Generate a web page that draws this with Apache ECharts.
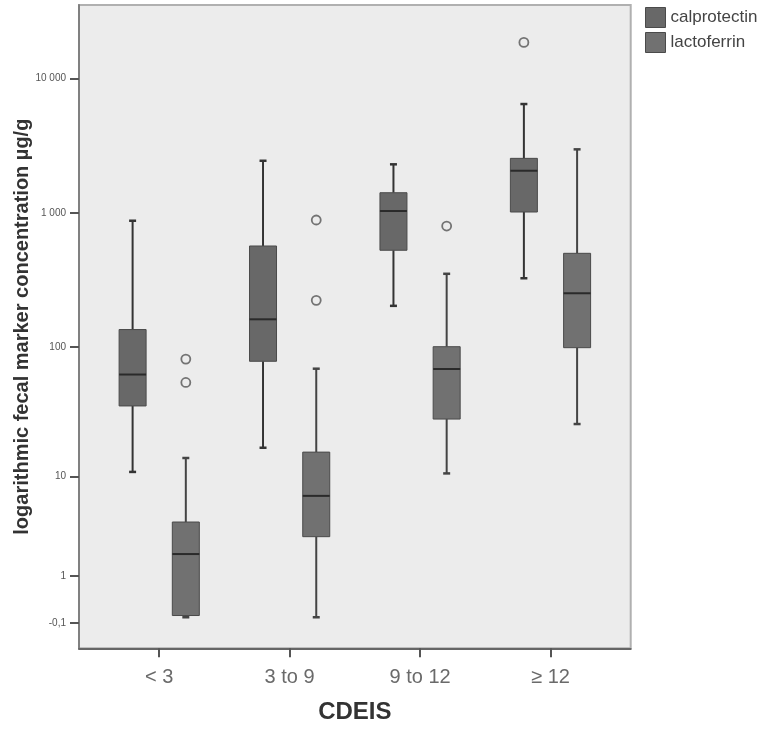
<!DOCTYPE html>
<html>
<head>
<meta charset="utf-8">
<script src="https://cdn.jsdelivr.net/npm/echarts@6/dist/echarts.min.js"></script>
<style>
html,body{margin:0;padding:0;background:#ffffff;}
#chart{width:770px;height:732px;}
</style>
</head>
<body>
<div id="chart"></div>
<script>
// ---------- data (µg/g) ----------
const categories = ['< 3', '3 to 9', '9 to 12', '\u2265 12'];
// [min, Q1, median, Q3, max]
const calprotectin = [
  [10.9, 35.8, 62, 135, 874],
  [17, 78, 161, 567, 2440],
  [203, 527, 1032, 1412, 2296],
  [326, 1015, 2057, 2543, 6443]
];
const lactoferrin = [
  [-0.01, 0.02, 1.92, 4.05, 14.1],
  [-0.01, 2.93, 6.9, 15.7, 68.6],
  [10.6, 28.4, 68.2, 100.4, 352],
  [26, 98.7, 252, 500, 2967]
];
// [category index, value]
const calprotectinOutliers = [[3, 18500]];
const lactoferrinOutliers = [[0, 81], [0, 54], [1, 885], [1, 223], [2, 798]];
const yTickValues = [-0.1, 1, 10, 100, 1000, 10000];
const yTickLabels = ['-0,1', '1', '10', '100', '1 000', '10 000'];

// ---------- helpers ----------
const tf = v => Math.log10(v + 1);           // SPSS-like log(x+1) scale
const OFF = 0.204;                            // side-by-side offset within a category
const FONT = '"Liberation Sans", Arial, Helvetica, sans-serif';
const yTickT = yTickValues.map(tf);
const xTicks = categories.map((_, i) => i);

function boxRenderer(fill, stroke, whisk) {
  return function (params, api) {
    const x = api.value(0);
    const p = [1, 2, 3, 4, 5].map(i => api.coord([x, api.value(i)]));
    const cx = p[0][0];
    const hw = 13.5, cw = 3.5;
    return {
      type: 'group',
      children: [
        {type: 'line', shape: {x1: cx, y1: p[4][1], x2: cx, y2: p[3][1]}, style: {stroke: whisk, lineWidth: 2}},
        {type: 'line', shape: {x1: cx, y1: p[1][1], x2: cx, y2: p[0][1]}, style: {stroke: whisk, lineWidth: 2}},
        {type: 'line', shape: {x1: cx - cw, y1: p[4][1], x2: cx + cw, y2: p[4][1]}, style: {stroke: whisk, lineWidth: 2.5}},
        {type: 'line', shape: {x1: cx - cw, y1: p[0][1], x2: cx + cw, y2: p[0][1]}, style: {stroke: whisk, lineWidth: 2.5}},
        {type: 'rect', shape: {x: cx - hw, y: p[3][1], width: 2 * hw, height: p[1][1] - p[3][1]},
         style: {fill: fill, stroke: stroke, lineWidth: 1}},
        {type: 'line', shape: {x1: cx - hw, y1: p[2][1], x2: cx + hw, y2: p[2][1]}, style: {stroke: '#2a2a2a', lineWidth: 2}}
      ]
    };
  };
}

const calFill = '#686868', lacFill = '#717171';

const chart = echarts.init(document.getElementById('chart'), null, {renderer: 'canvas'});
chart.setOption({
  animation: false,
  backgroundColor: '#ffffff',
  textStyle: {fontFamily: FONT},
  legend: {
    orient: 'vertical', left: 645, top: 7, padding: 0,
    itemWidth: 20, itemHeight: 20, itemGap: 4,
    icon: 'rect', selectedMode: false,
    textStyle: {fontSize: 17, color: '#444', fontFamily: FONT},
    data: [
      {name: 'calprotectin', itemStyle: {color: calFill, borderColor: '#4a4a4a', borderWidth: 1}},
      {name: 'lactoferrin', itemStyle: {color: lacFill, borderColor: '#4a4a4a', borderWidth: 1}}
    ]
  },
  grid: {
    left: 79, right: 139.3, top: 5, bottom: 83.7,
    show: true, backgroundColor: '#ececec', borderColor: '#b0b0b0', borderWidth: 2,
    containLabel: false, outerBoundsMode: 'none'
  },
  xAxis: {
    type: 'value', min: -0.615, max: 3.615,
    splitLine: {show: false},
    axisLine: {show: true, onZero: false, lineStyle: {color: '#666', width: 2}},
    axisTick: {show: true, customValues: xTicks, length: 9, lineStyle: {color: '#555', width: 2}},
    axisLabel: {
      customValues: xTicks, margin: 19, fontSize: 20, color: '#6a6a6a', fontFamily: FONT,
      formatter: v => categories[Math.round(v)]
    },
    name: 'CDEIS', nameLocation: 'middle', nameGap: 52, nameMoveOverlap: false,
    nameTextStyle: {fontSize: 24, fontWeight: 'bold', color: '#333', fontFamily: FONT}
  },
  yAxis: {
    type: 'value', min: -0.235, max: 4.545,
    splitLine: {show: false},
    axisLine: {show: true, onZero: false, lineStyle: {color: '#808080', width: 2}},
    axisTick: {show: true, customValues: yTickT, length: 9, lineStyle: {color: '#555', width: 2}},
    axisLabel: {
      customValues: yTickT, margin: 13, fontSize: 10, color: '#555', fontFamily: FONT,
      formatter: function (v) {
        let best = 0;
        yTickT.forEach((t, i) => { if (Math.abs(t - v) < Math.abs(yTickT[best] - v)) best = i; });
        return yTickLabels[best];
      }
    },
    name: 'logarithmic fecal marker concentration \u00b5g/g',
    nameLocation: 'middle', nameGap: 47, nameMoveOverlap: false,
    nameTextStyle: {fontSize: 20, fontWeight: 'bold', color: '#333', fontFamily: FONT}
  },
  series: [
    {
      name: 'calprotectin', type: 'custom',
      itemStyle: {color: calFill},
      encode: {x: 0, y: [1, 2, 3, 4, 5]},
      data: calprotectin.map((d, i) => [i - OFF].concat(d.map(tf))),
      renderItem: boxRenderer(calFill, '#4a4a4a', '#333')
    },
    {
      name: 'lactoferrin', type: 'custom',
      itemStyle: {color: lacFill},
      encode: {x: 0, y: [1, 2, 3, 4, 5]},
      data: lactoferrin.map((d, i) => [i + OFF].concat(d.map(tf))),
      renderItem: boxRenderer(lacFill, '#4a4a4a', '#444')
    },
    {
      name: 'calprotectin outliers', type: 'scatter',
      symbol: 'circle', symbolSize: 9,
      itemStyle: {color: '#ececec', borderColor: '#555', borderWidth: 1.8},
      data: calprotectinOutliers.map(([i, v]) => [i - OFF, tf(v)])
    },
    {
      name: 'lactoferrin outliers', type: 'scatter',
      symbol: 'circle', symbolSize: 9,
      itemStyle: {color: '#ececec', borderColor: '#555', borderWidth: 1.8},
      data: lactoferrinOutliers.map(([i, v]) => [i + OFF, tf(v)])
    }
  ]
});
</script>
</body>
</html>
